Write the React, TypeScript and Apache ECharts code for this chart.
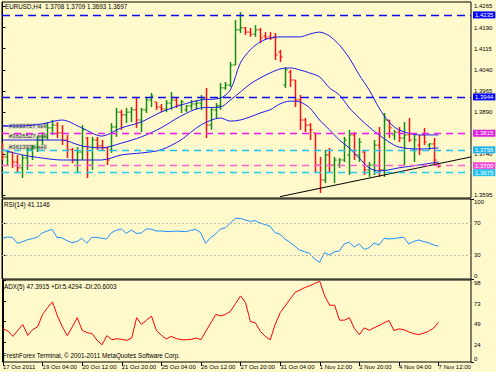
import React, { useEffect, useRef } from 'react';
import * as echarts from 'echarts';

// ---- data ----
const dateTickIdx = [0, 8, 16, 24, 32, 40, 48, 56, 64, 72, 80, 88];
const dateLabels = ['17 Oct 2011', '19 Oct 04:00', '20 Oct 12:00', '21 Oct 20:00', '25 Oct 04:00', '26 Oct 12:00', '27 Oct 20:00', '31 Oct 04:00', '1 Nov 12:00', '2 Nov 20:00', '4 Nov 04:00', '7 Nov 12:00'];

const open = [
  1.3766, 1.3731, 1.3748, 1.3713, 1.3692, 1.3727, 1.3756, 1.3766, 1.3791, 1.3802,
  1.3834, 1.3844, 1.3816, 1.3791, 1.3756, 1.3720, 1.3748, 1.3798, 1.3702, 1.3791,
  1.3770, 1.3763, 1.3756, 1.3837, 1.3890, 1.3880, 1.3890, 1.3898, 1.3862, 1.3898,
  1.3933, 1.3926, 1.3908, 1.3901, 1.3922, 1.3933, 1.3915, 1.3898, 1.3912, 1.3919,
  1.3922, 1.3940, 1.3844, 1.3898, 1.3912, 1.3976, 1.3986, 1.4057, 1.4182, 1.4189,
  1.4174, 1.4167, 1.4182, 1.4160, 1.4157, 1.4157, 1.4103, 1.3986, 1.4032, 1.4004,
  1.3933, 1.3862, 1.3844, 1.3816, 1.3702, 1.3649, 1.3738, 1.3702, 1.3702, 1.3720,
  1.3738, 1.3809, 1.3738, 1.3748, 1.3685, 1.3702, 1.3773, 1.3685, 1.3862, 1.3809,
  1.3819, 1.3798, 1.3809, 1.3756, 1.3773, 1.3809, 1.3773, 1.3777, 1.3708,
];
const high = [
  1.3780, 1.3756, 1.3748, 1.3738, 1.3738, 1.3763, 1.3773, 1.3805, 1.3819, 1.3855,
  1.3862, 1.3855, 1.3844, 1.3809, 1.3763, 1.3766, 1.3844, 1.3802, 1.3802, 1.3802,
  1.3791, 1.3766, 1.3851, 1.3905, 1.3898, 1.3905, 1.3908, 1.3944, 1.3905, 1.3944,
  1.3958, 1.3926, 1.3919, 1.3933, 1.3961, 1.3940, 1.3933, 1.3915, 1.3933, 1.3933,
  1.3951, 1.3976, 1.3908, 1.3922, 1.3993, 1.3997, 1.4068, 1.4217, 1.4245, 1.4192,
  1.4189, 1.4199, 1.4189, 1.4174, 1.4174, 1.4171, 1.4111, 1.4050, 1.4040, 1.4004,
  1.3951, 1.3869, 1.3851, 1.3816, 1.3731, 1.3756, 1.3763, 1.3731, 1.3727, 1.3802,
  1.3827, 1.3819, 1.3798, 1.3756, 1.3713, 1.3791, 1.3837, 1.3887, 1.3862, 1.3827,
  1.3837, 1.3855, 1.3869, 1.3809, 1.3809, 1.3834, 1.3780, 1.3798, 1.3709,
];
const low = [
  1.3720, 1.3702, 1.3692, 1.3674, 1.3656, 1.3685, 1.3720, 1.3748, 1.3773, 1.3791,
  1.3809, 1.3798, 1.3773, 1.3727, 1.3709, 1.3674, 1.3720, 1.3656, 1.3685, 1.3756,
  1.3756, 1.3702, 1.3745, 1.3802, 1.3827, 1.3851, 1.3855, 1.3834, 1.3819, 1.3887,
  1.3908, 1.3898, 1.3890, 1.3890, 1.3898, 1.3905, 1.3887, 1.3890, 1.3898, 1.3898,
  1.3898, 1.3798, 1.3827, 1.3869, 1.3898, 1.3969, 1.3979, 1.4057, 1.4171, 1.4164,
  1.4157, 1.4157, 1.4135, 1.4146, 1.4146, 1.4075, 1.4068, 1.3976, 1.3979, 1.3908,
  1.3827, 1.3819, 1.3791, 1.3674, 1.3603, 1.3638, 1.3677, 1.3638, 1.3692, 1.3713,
  1.3667, 1.3720, 1.3713, 1.3667, 1.3660, 1.3667, 1.3660, 1.3660, 1.3798, 1.3791,
  1.3784, 1.3702, 1.3784, 1.3713, 1.3738, 1.3773, 1.3756, 1.3702, 1.3693,
];
const close = [
  1.3731, 1.3748, 1.3713, 1.3692, 1.3727, 1.3756, 1.3766, 1.3791, 1.3802, 1.3834,
  1.3844, 1.3816, 1.3791, 1.3756, 1.3720, 1.3748, 1.3827, 1.3702, 1.3791, 1.3770,
  1.3763, 1.3720, 1.3837, 1.3890, 1.3880, 1.3890, 1.3898, 1.3862, 1.3898, 1.3933,
  1.3947, 1.3908, 1.3901, 1.3922, 1.3933, 1.3915, 1.3926, 1.3912, 1.3919, 1.3922,
  1.3940, 1.3844, 1.3898, 1.3912, 1.3976, 1.3986, 1.4057, 1.4182, 1.4189, 1.4174,
  1.4167, 1.4182, 1.4153, 1.4153, 1.4153, 1.4093, 1.4086, 1.4040, 1.4004, 1.3933,
  1.3862, 1.3844, 1.3827, 1.3702, 1.3649, 1.3738, 1.3702, 1.3720, 1.3720, 1.3791,
  1.3809, 1.3738, 1.3784, 1.3685, 1.3702, 1.3773, 1.3685, 1.3862, 1.3834, 1.3819,
  1.3798, 1.3809, 1.3791, 1.3791, 1.3756, 1.3784, 1.3777, 1.3720, 1.3697,
];

const bbIdx = [0, 4, 8, 12, 16, 20, 24, 28, 32, 36, 40, 44, 46, 48, 50, 52, 54, 56, 58, 60, 62, 64, 66, 68, 70, 72, 74, 76, 78, 80, 84, 88];
const bbUpper = [1.3841, 1.3841, 1.3848, 1.3862, 1.3834, 1.3805, 1.3834, 1.3855, 1.3890, 1.3915, 1.3933, 1.3940, 1.3969, 1.4064, 1.4111, 1.4139, 1.4153, 1.4157, 1.4157, 1.4157, 1.4167, 1.4174, 1.4160, 1.4128, 1.4082, 1.4022, 1.3969, 1.3905, 1.3855, 1.3827, 1.3809, 1.3809];
const bbMiddle = [1.3791, 1.3791, 1.3791, 1.3791, 1.3770, 1.3763, 1.3780, 1.3802, 1.3834, 1.3876, 1.3905, 1.3908, 1.3933, 1.3961, 1.3990, 1.4011, 1.4029, 1.4043, 1.4047, 1.4040, 1.4029, 1.4015, 1.3976, 1.3951, 1.3905, 1.3869, 1.3837, 1.3809, 1.3784, 1.3766, 1.3759, 1.3763];
const bbLower = [1.3756, 1.3738, 1.3727, 1.3720, 1.3720, 1.3720, 1.3738, 1.3745, 1.3756, 1.3791, 1.3844, 1.3869, 1.3858, 1.3862, 1.3873, 1.3887, 1.3898, 1.3919, 1.3929, 1.3926, 1.3905, 1.3862, 1.3827, 1.3791, 1.3763, 1.3727, 1.3692, 1.3681, 1.3685, 1.3692, 1.3702, 1.3713];

const rsi = [
  50.8, 52.5, 52, 44.6, 46.5, 49, 50.5, 52, 57.5, 60,
  62, 52, 51.5, 48, 45.4, 46.7, 50.8, 44.6, 52.1, 52.1,
  51, 50, 57.9, 61, 62.5, 57.1, 61.2, 57.1, 57.5, 62.5,
  62.5, 60, 60, 59.5, 59.2, 60, 59.5, 59.2, 60.8, 62,
  57.9, 44.6, 51.7, 56.2, 62.5, 64.2, 70, 75.8, 75.8, 73.8,
  72, 73, 70, 68, 66, 58, 56, 50, 46, 41,
  36, 34, 32, 25, 21, 33, 30, 34, 35, 44,
  46, 40, 44, 37, 39, 45, 42.5, 50.8, 50, 50.5,
  51.5, 52.1, 43.8, 47, 48.8, 46.7, 45.4, 42.5, 41.11,
];
const adx = [
  39.6, 37, 30.6, 38, 44.8, 31.8, 38.7, 42, 56.9, 65,
  71.8, 55, 42, 31.5, 42, 52.9, 37.9, 35, 34, 26,
  20.6, 31.5, 26.6, 27.8, 27, 25.8, 28.7, 52.9, 44.8, 50,
  54.8, 37.5, 32, 27.5, 30.6, 28, 26.6, 26.6, 27, 28.7,
  26.6, 37, 46.8, 56.9, 55, 57, 60.9, 70, 79, 71,
  48.4, 46.8, 36.7, 30.6, 26.6, 45, 58.9, 66.9, 75, 83.1,
  86, 89, 91.1, 94, 96.4, 79, 67.8, 67.8, 50, 50,
  52.9, 40, 32.7, 40.8, 37.9, 41, 43.6, 47, 49.6, 37.5,
  39.6, 38.7, 36, 33.9, 32.7, 34.5, 36.7, 40.5, 47.39,
];

const priceTicks = [1.4265, 1.4190, 1.4115, 1.4040, 1.3965, 1.3890, 1.3815, 1.3740, 1.3595];
const rsiMidTicks = [70, 30];
const rsiTopTick = [100];
const rsiBottomTick = [0];
const rsiLevels = [70, 30];
const adxTicks = [98, 73, 49, 24];
const adxBottomTick = [0];
const levelPrices = [1.4235, 1.3944, 1.3815, 1.3756, 1.3700, 1.3675];
const levelColors = ['#0A0AF0', '#0A0AF0', '#F018F0', '#20C0F0', '#FF60D8', '#20CCF4'];
const levelBoxColors = ['#0000FF', '#0000FF', '#E020E0', '#22B4EE', '#F050D8', '#22BFF0'];
const trendX = [56, 94.6];
const trendY = [1.3590, 1.3731];
const orderLabels = ['#3630727 sell', '#3626527 sell', '#3613936 sell'];
const titleText = 'EURUSD,H4  1.3708 1.3709 1.3693 1.3697';
const rsiText = 'RSI(14) 41.1146';
const adxText = 'ADX(5) 47.3915 +DI:5.4294 -DI:20.6003';
const copyText = 'FreshForex Terminal, \u00A9 2001-2011 MetaQuotes Software Corp.';

const FONT = 'Liberation Sans, Arial, sans-serif';
const UP = '#138C13';
const DOWN = '#FF1010';
const XMIN = -0.1;
const XMAX = 94.56;

export default function App() {
  const ref = useRef<HTMLDivElement>(null);
  useEffect(() => {
    if (!ref.current) return;
    const chart = echarts.init(ref.current, undefined, { renderer: 'svg' });
    const ohlc = open.map((o, i) => [i, o, high[i], low[i], close[i]]);
    const band = (arr: number[]) => bbIdx.map((x, k) => [x, arr[k]]);
    const axisText = { fontSize: 6, color: '#000', fontFamily: FONT, lineHeight: 6 };
    const hiddenX = (g: number) => ({ gridIndex: g, type: 'value', min: XMIN, max: XMAX, show: false, splitLine: { show: false } });
    const gridBase = { left: 2, width: 469, show: true, borderColor: '#000', borderWidth: 1, backgroundColor: 'transparent' };
    const txt = (text: string, left: number, top: number) => ({
      type: 'text', left, top, style: { text, fontSize: 6.3, fill: '#000', fontFamily: FONT },
    });
    const yAx = (grid: number, min: number, max: number, ticks: number[], vAlign: string, showLine: boolean, fmt?: (v: number) => string) => ({
      gridIndex: grid, type: 'value', position: 'right', min, max,
      axisLine: { show: showLine, lineStyle: { color: '#000' } },
      axisTick: { show: true, length: 3, customValues: ticks, lineStyle: { color: '#000' } },
      axisLabel: { ...axisText, customValues: ticks, margin: 3, verticalAlign: vAlign, ...(fmt ? { formatter: fmt } : {}) },
      splitLine: { show: false },
    });

    chart.setOption({
      animation: false,
      backgroundColor: '#FFF9CB',
      grid: [
        { ...gridBase, top: 2, height: 196 },
        { ...gridBase, top: 199, height: 80 },
        { ...gridBase, top: 280, height: 82 },
      ],
      xAxis: [
        hiddenX(0),
        hiddenX(1),
        {
          gridIndex: 2, type: 'value', min: XMIN, max: XMAX,
          axisLine: { show: false },
          axisTick: { show: true, customValues: dateTickIdx, length: 4, lineStyle: { color: '#000' } },
          axisLabel: {
            ...axisText, customValues: dateTickIdx, align: 'left', margin: 2,
            formatter: (v: number) => dateLabels[dateTickIdx.indexOf(Math.round(v))] || '',
          },
          splitLine: { show: false },
        },
      ],
      yAxis: [
        yAx(0, 1.35851, 1.42809, priceTicks, 'middle', true, (v: number) => v.toFixed(4)),
        yAx(1, 0, 100, rsiMidTicks, 'middle', true),
        yAx(1, 0, 100, rsiTopTick, 'top', false),
        yAx(1, 0, 100, rsiBottomTick, 'bottom', false),
        yAx(2, 0, 98, adxTicks, 'top', true),
        yAx(2, 0, 98, adxBottomTick, 'bottom', false),
      ],
      series: [
        {
          type: 'line', xAxisIndex: 0, yAxisIndex: 0, data: band(bbUpper), symbol: 'none', smooth: 0.3,
          lineStyle: { color: '#1A1AF0', width: 1 }, silent: true,
        },
        {
          type: 'line', xAxisIndex: 0, yAxisIndex: 0, data: band(bbMiddle), symbol: 'none', smooth: 0.3,
          lineStyle: { color: '#1A1AF0', width: 1 }, silent: true,
        },
        {
          type: 'line', xAxisIndex: 0, yAxisIndex: 0, data: band(bbLower), symbol: 'none', smooth: 0.3,
          lineStyle: { color: '#1A1AF0', width: 1 }, silent: true,
        },
        {
          type: 'line', xAxisIndex: 0, yAxisIndex: 0, symbol: 'none', clip: true, silent: true,
          data: [[trendX[0], trendY[0]], [trendX[1], trendY[1]]],
          lineStyle: { color: '#000', width: 1 },
          markLine: {
            silent: true, symbol: ['none', 'none'], precision: 4,
            data: levelPrices.map((p, k) => ({
              yAxis: p,
              lineStyle: { color: levelColors[k], type: k < 2 ? [8, 5] : [7, 5], width: k < 2 ? 1.3 : 1.4 },
              label: {
                show: true, position: 'end', distance: 2, formatter: p.toFixed(4),
                backgroundColor: levelBoxColors[k], color: '#fff', fontSize: 6, fontFamily: FONT,
                lineHeight: 6, padding: [1, 2, 0, 2],
              },
            })),
          },
        },
        {
          type: 'custom', xAxisIndex: 0, yAxisIndex: 0, data: ohlc, clip: true,
          encode: { x: 0, y: [1, 2, 3, 4] },
          renderItem: (params: any, api: any) => {
            const idx = api.value(0);
            const o = api.value(1), h = api.value(2), l = api.value(3), c = api.value(4);
            const pH = api.coord([idx, h]);
            const pL = api.coord([idx, l]);
            const pO = api.coord([idx, o]);
            const pC = api.coord([idx, c]);
            const x = Math.round(pH[0]) + 0.5;
            const color = c >= o ? UP : DOWN;
            return {
              type: 'group',
              children: [
                { type: 'line', shape: { x1: x, y1: pH[1], x2: x, y2: pL[1] }, style: { stroke: color, lineWidth: 1.5 } },
                { type: 'line', shape: { x1: x - 2.2, y1: pO[1], x2: x, y2: pO[1] }, style: { stroke: color, lineWidth: 1 } },
                { type: 'line', shape: { x1: x, y1: pC[1], x2: x + 2.2, y2: pC[1] }, style: { stroke: color, lineWidth: 1 } },
              ],
            };
          },
        },
        {
          type: 'line', xAxisIndex: 1, yAxisIndex: 1, symbol: 'none', silent: true,
          data: rsi.map((v, i) => [i, v]),
          lineStyle: { color: '#1E90FF', width: 1 },
          markLine: {
            silent: true, symbol: ['none', 'none'], label: { show: false }, precision: 2,
            lineStyle: { color: '#BDBDB0', type: [2, 2], width: 1 },
            data: rsiLevels.map((v) => ({ yAxis: v })),
          },
        },
        {
          type: 'line', xAxisIndex: 2, yAxisIndex: 4, symbol: 'none', silent: true,
          data: adx.map((v, i) => [i, v]),
          lineStyle: { color: '#FF0000', width: 1 },
        },
      ],
      graphic: [
        txt(titleText, 5, 3),
        txt(rsiText, 4, 201),
        txt(adxText, 4, 283),
        txt(copyText, 3, 352),
        { type: 'line', shape: { x1: 2, y1: 126, x2: 8, y2: 126 }, style: { stroke: '#1A1AF0', lineWidth: 1 } },
        ...orderLabels.map((t, k) => ({
          type: 'text', left: 8, top: [123, 133, 144][k],
          style: { text: t, fontSize: 6, fill: '#333', fontFamily: FONT, backgroundColor: 'rgba(205,205,195,0.55)', padding: [0, 1] },
        })),
      ],
    });
    return () => chart.dispose();
  }, []);

  return <div ref={ref} style={{ position: 'fixed', left: 0, top: 0, width: 496, height: 372 }} />;
}
